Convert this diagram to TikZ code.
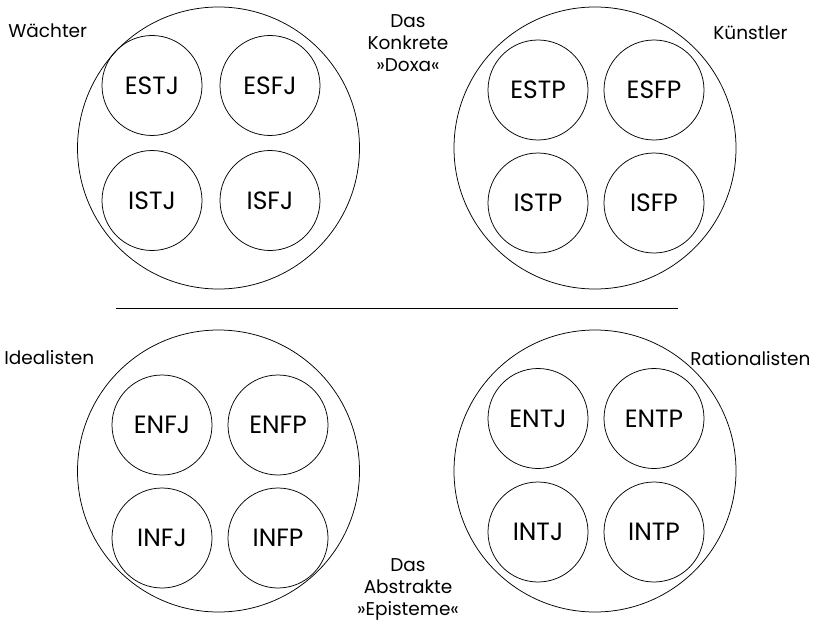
\documentclass[tikz,border=0pt]{standalone}
\usepackage{fontspec}
\setmainfont{Poppins}
\usetikzlibrary{positioning}

\begin{document}
\begin{tikzpicture}[x=1pt,y=-1pt,line width=0.75pt,node distance=116pt]
\tikzstyle{temperament}=[circle,draw,minimum size=282pt,inner sep=0pt]
\tikzstyle{typ}=[circle,draw,minimum size=100pt,inner sep=0pt,
    font=\fontsize{25}{25}\selectfont]
\tikzstyle{gruppe}=[font=\fontsize{18.5}{22}\selectfont,inner sep=0pt]
\useasboundingbox (0,0) rectangle (818,623);

% die vier Temperamente
\node[temperament] (W) at (218.5,148) {};
\node[temperament] (K) at (595,148) {};
\node[temperament] (I) at (218.5,471) {};
\node[temperament] (R) at (595,471) {};

% Waechter
\node[typ] (ESTJ) at (152,85.5) {ESTJ};
\node[typ,node distance=118pt] (ESFJ) [right of=ESTJ] {ESFJ};
\node[typ,node distance=115pt] (ISTJ) [below of=ESTJ] {ISTJ};
\node[typ,node distance=115pt] (ISFJ) [below of=ESFJ] {ISFJ};

% Kuenstler
\node[typ] (ESTP) at (538,90) {ESTP};
\node[typ] (ESFP) [right of=ESTP] {ESFP};
\node[typ,node distance=113pt] (ISTP) [below of=ESTP] {ISTP};
\node[typ,node distance=113pt] (ISFP) [below of=ESFP] {ISFP};

% Idealisten
\node[typ] (ENFJ) at (162,425) {ENFJ};
\node[typ] (ENFP) [right of=ENFJ] {ENFP};
\node[typ,node distance=113pt] (INFJ) [below of=ENFJ] {INFJ};
\node[typ,node distance=113pt] (INFP) [below of=ENFP] {INFP};

% Rationalisten
\node[typ] (ENTJ) at (538,418.5) {ENTJ};
\node[typ] (ENTP) [right of=ENTJ] {ENTP};
\node[typ,node distance=113.5pt] (INTJ) [below of=ENTJ] {INTJ};
\node[typ,node distance=113.5pt] (INTP) [below of=ENTP] {INTP};

% Beschriftungen
\node[gruppe,anchor=base west] (lW) at (8,38) {Wächter};
\node[gruppe,anchor=base west] (lK) at (713,40) {Künstler};
\node[gruppe,anchor=base west] (lI) at (4,364) {Idealisten};
\node[gruppe,anchor=base west] (lR) at (690,365) {Rationalisten};
\node[gruppe,align=center,anchor=north] (konkret) at (408,14)
    {Das\\Konkrete\\»Doxa«};
\node[gruppe,align=center,anchor=south] (abstrakt) at (408,621)
    {Das\\Abstrakte\\»Episteme«};

% Trennlinie
\coordinate (links) at (116,308);
\coordinate (rechts) at (678,308);
\draw (links) -- (rechts);
\end{tikzpicture}
\end{document}
